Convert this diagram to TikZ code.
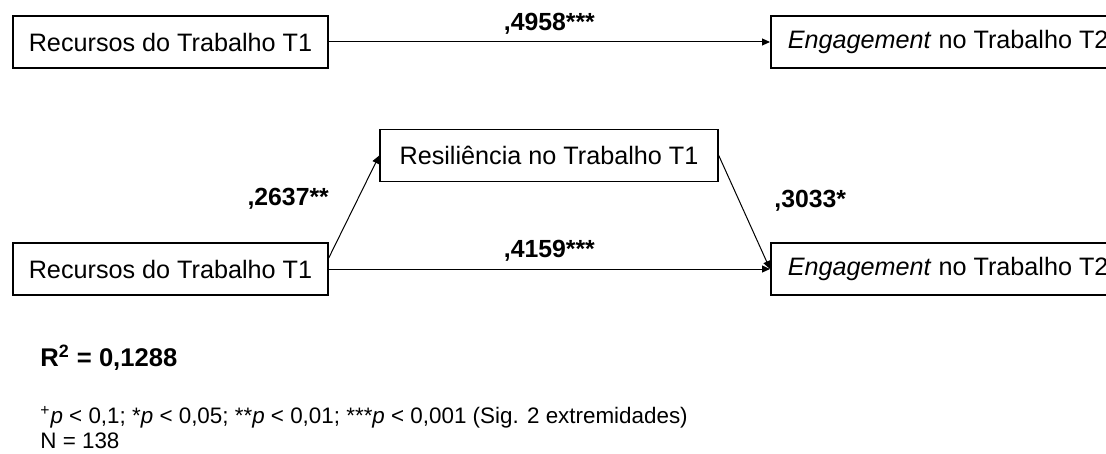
\documentclass[tikz,border=0pt]{standalone}
\usepackage{fontspec}
\setmainfont{Liberation Sans}
\usetikzlibrary{arrows.meta}

\begin{document}
\begin{tikzpicture}[x=0.5pt,y=-0.5pt]

      \useasboundingbox (0,0) rectangle (1106,454);

      \begin{scope}[every node/.style={rectangle,draw,line width=0.75pt,minimum height=26pt,font=\fontsize{12.6}{15}\selectfont}]
        \node[minimum width=157.5pt] (rec1) at (170.5,42) {Recursos do Trabalho T1};
        \node[anchor=west,inner xsep=8.5pt] (eng1) at (770,42) {\textit{Engagement} no Trabalho T2};
        \node[minimum width=169pt] (res) at (549,155.5) {Resiliência no Trabalho T1};
        \node[minimum width=157.5pt] (rec2) at (170.5,269) {Recursos do Trabalho T1};
        \node[anchor=west,inner xsep=8.5pt] (eng2) at (770,269) {\textit{Engagement} no Trabalho T2};
      \end{scope}

      \begin{scope}[every node/.style={font=\bfseries\fontsize{12.4}{15}\selectfont}]

        \begin{scope}[every edge/.style={draw,line width=0.5pt,-{Triangle[length=4pt,width=3.5pt]}}]
          \path (rec1)   edge node[above] {,4958***} (eng1);
          \path (rec2.4) edge node[pos=0.58,left=11pt] {,2637**} (res.west);
          \path (res.east) edge node[pos=0.4,right=14pt] {,3033*} (eng2.west);
          \path (rec2)   edge node[above] {,4159***} (eng2);
        \end{scope}
      \end{scope}

      \begin{scope}[every node/.style={anchor=base west,inner sep=0pt}]
        \node[font=\bfseries\fontsize{12.8}{15}\selectfont] (rsq) at (40,366) {R\textsuperscript{2} = 0,1288};
        \node[font=\fontsize{11.2}{12.5}\selectfont] (sig) at (40,423)
          {\textsuperscript{+}\textit{p} < 0,1; *\textit{p} < 0,05; **\textit{p} < 0,01; ***\textit{p} < 0,001 (Sig. 2 extremidades)};
        \node[font=\fontsize{11.2}{12.5}\selectfont] (n) at (40,448) {N = 138};
      \end{scope}

    \end{tikzpicture}
\end{document}
